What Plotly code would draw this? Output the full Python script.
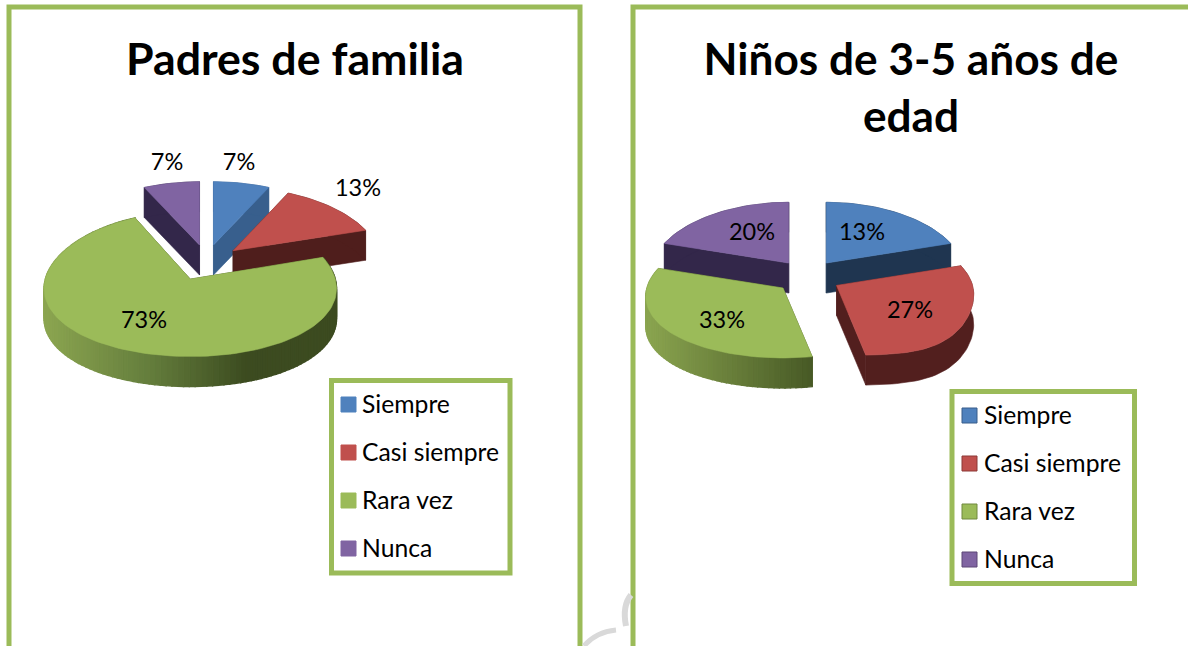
import math
import plotly.graph_objects as go

categorias = ["Siempre", "Casi siempre", "Rara vez", "Nunca"]
titulo_padres = "Padres de familia"
titulo_ninos_1 = "Niños de 3-5 años de"
titulo_ninos_2 = "edad"
# Slice sizes as drawn in the picture (%)
valores_padres = [7, 13, 73, 7]
valores_ninos = [20, 27, 33, 20]
# Printed labels (the second pie prints 13% on a slice drawn as about 20%)
etiquetas_padres = ["7%", "13%", "73%", "7%"]
etiquetas_ninos = ["13%", "27%", "33%", "20%"]

COLORS = ["#4f81bd", "#c0504d", "#9bbb59", "#8064a2"]
FRAME = "#9bbb59"
FONT = "Lato"


def mix(a, b, t):
    t = max(0, min(1, t))
    return "rgb(%d,%d,%d)" % tuple(round(a[i] + (b[i] - a[i]) * t) for i in range(3))


fig = go.Figure()


def poly(xs, ys, color, lw=0.6):
    fig.add_trace(go.Scatter(x=xs, y=ys, mode="lines", fill="toself", fillcolor=color,
                             line=dict(color=color, width=lw), hoverinfo="skip", showlegend=False))


def pie3d(values, geo, wall_colors, order, shade):
    total = sum(values)
    start = 0
    spans = []
    for v in values:
        end = start + v / total * 360
        spans.append((start, end))
        start = end
    cx, cy = geo["c"]

    def outer(ax, ay, deg, i):
        r = math.radians(deg)
        c = math.cos(r)
        px = 1 / (1 + geo["kx"] * c)
        py = 1 / (1 + geo["ky"] * c)
        bulge = geo["bulge"][i] * math.sin(2 * r) ** 2 if c < 0 else 0
        return ax + geo["rx"] * math.sin(r) * px, ay - geo["sy"][i] * geo["ry"] * c * py + bulge

    for i in order:
        a, b = spans[i]
        mid = math.radians((a + b) / 2)
        ax = cx + geo["px"] * math.sin(mid) + geo["nudge"][i]
        ay = cy - geo["py"] * math.cos(mid)
        n = max(4, int((b - a) / 2))
        degs = [a + (b - a) * k / n for k in range(n + 1)]
        pts = [outer(ax, ay, d, i) for d in degs]
        d = geo["depth"]
        # cut faces
        for p in (pts[0], pts[-1]):
            poly([ax, p[0], p[0], ax, ax], [ay, p[1], p[1] + d, ay + d, ay], wall_colors[i])
        # outer wall
        if i == 2:
            for k in range(n):
                p, q = pts[k], pts[k + 1]
                col = shade((p[0] + q[0]) / 2)
                poly([p[0], q[0], q[0], p[0], p[0]], [p[1], q[1], q[1] + d, p[1] + d, p[1]], col, 1.4)
        else:
            poly([p[0] for p in pts] + [p[0] for p in reversed(pts)] + [pts[0][0]],
                 [p[1] for p in pts] + [p[1] + d for p in reversed(pts)] + [pts[0][1]], wall_colors[i])
        # top
        poly([ax] + [p[0] for p in pts] + [ax], [ay] + [p[1] for p in pts] + [ay], COLORS[i])


LIGHT, MID, DARK = (139, 165, 80), (100, 125, 60), (60, 75, 32)


def shade_left(x):
    return mix(LIGHT, MID, (x - 45) / 105) if x < 150 else mix(MID, DARK, (x - 150) / 95)


def shade_right(x):
    return mix(LIGHT, (72, 90, 38), (x - 645) / 165)


geo_l = dict(c=(206, 262.6), px=32, py=18, rx=145, ry=72, kx=0.13, ky=0.07, depth=30,
             bulge=[0, 0, 0, 0], sy=[0.94, 0.94, 1, 0.94], nudge=[0.5, 3, -3, 0.5])
geo_r = dict(c=(807, 276.8), px=32, py=17, rx=136, ry=65, kx=0.13, ky=0.07, depth=30,
             bulge=[0, 8, 0, 0], sy=[1, 1, 1, 1], nudge=[0.5, 2, 0, 0.5])

pie3d(valores_padres, geo_l, ["#385f8d", "#4f1e1c", "#3f4d20", "#33274a"], [0, 3, 1, 2], shade_left)
pie3d(valores_ninos, geo_r, ["#1f3550", "#521f1e", "#3f4d20", "#33274a"], [0, 3, 2, 1], shade_right)


def texts(xs, ys, labels, size, anchor="middle center", bold=False):
    fig.add_trace(go.Scatter(x=xs, y=ys, mode="text", text=labels, textposition=anchor,
                             textfont=dict(family=FONT, size=size, color="#000000",
                                           weight=700 if bold else 400),
                             hoverinfo="skip", showlegend=False))


texts([239, 358, 144, 167], [164, 190, 322, 164], etiquetas_padres, 23.5)
texts([862, 910, 722, 752], [234, 312, 322, 234], etiquetas_ninos, 23.5)
texts([295], [64], [titulo_padres], 44.7, bold=True)
texts([911], [64], [titulo_ninos_1], 44.2, bold=True)
texts([911], [121], [titulo_ninos_2], 44.2, bold=True)

# legends
for lx, ly, tx, edge in [(348.5, 404.5, 362, False), (969.5, 415.5, 984, True)]:
    rows = [ly + 48 * k for k in range(4)]
    fig.add_trace(go.Scatter(x=[lx] * 4, y=rows, mode="markers",
                             marker=dict(symbol="square", size=15, color=COLORS,
                                         line=dict(width=1, color=["#385d8a", "#8c3836", "#71893f", "#5c4776"] if edge else COLORS)),
                             hoverinfo="skip", showlegend=False))
    texts([tx] * 4, [r + 2 for r in rows], categorias, 24.7, anchor="middle right")

shapes = []
for x0, x1 in [(9, 580), (633, 1300)]:
    shapes.append(dict(type="rect", x0=x0, x1=x1, y0=7, y1=700, line=dict(color=FRAME, width=5), layer="below"))
for x0, x1, y0, y1 in [(331.5, 510, 380.5, 573), (952, 1134.5, 391.5, 583.5)]:
    shapes.append(dict(type="rect", x0=x0, x1=x1, y0=y0, y1=y1, line=dict(color=FRAME, width=5), layer="below"))
# watermark fragments visible in the gap between the frames
shapes.append(dict(type="path", path="M 584 646 Q 596 632 616 630", line=dict(color="#d9d9d9", width=5), layer="below"))
shapes.append(dict(type="path", path="M 631 595 Q 622 606 626 626", line=dict(color="#d9d9d9", width=6), layer="below"))

fig.update_layout(width=1188, height=646, margin=dict(l=0, r=0, t=0, b=0),
                  paper_bgcolor="white", plot_bgcolor="white", showlegend=False, shapes=shapes,
                  xaxis=dict(range=[0, 1188], visible=False, fixedrange=True),
                  yaxis=dict(range=[646, 0], visible=False, fixedrange=True))
fig.write_html("out.html", post_script="document.body.style.margin='0';", config=dict(displayModeBar=False))
